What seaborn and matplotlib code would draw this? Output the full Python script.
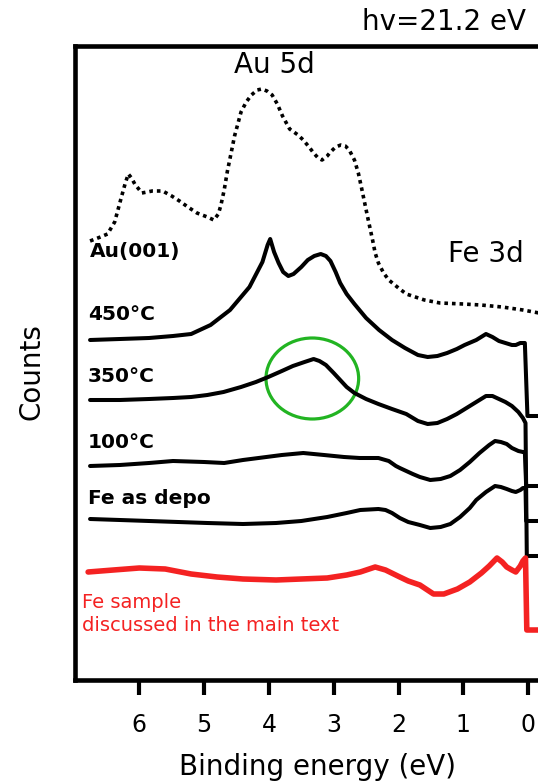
import matplotlib
matplotlib.use("Agg")
import matplotlib.pyplot as plt
from matplotlib.patches import Ellipse
import pandas as pd
import seaborn as sns

# UPS valence-band spectra (hv = 21.2 eV); counts are in arbitrary units,
# each spectrum vertically offset for clarity.
au_energy = [6.76, 6.60, 6.49, 6.38, 6.28, 6.22, 6.17, 6.12, 6.07, 5.96, 5.80, 5.64,
             5.50, 5.38, 5.25, 5.11, 4.95, 4.85, 4.78, 4.74, 4.69, 4.64, 4.58, 4.53,
             4.43, 4.35, 4.27, 4.18, 4.11, 4.03, 3.95, 3.87, 3.79, 3.68, 3.55, 3.47,
             3.38, 3.31, 3.24, 3.18, 3.10, 3.05, 2.97, 2.89, 2.82, 2.76, 2.68, 2.62,
             2.57, 2.47, 2.40, 2.36, 2.31, 2.23, 2.15, 2.00, 1.88, 1.60, 1.36, 1.00,
             0.73, 0.40, 0.08, -0.17, -0.50]
au_counts = [439, 443, 446, 458, 482, 496, 506, 502, 496, 487, 489, 489,
             484, 479, 473, 467, 463, 460, 466, 475, 490, 509, 528, 544,
             568, 578, 585, 590, 591, 589, 585, 576, 564, 551, 545, 540,
             533, 527, 522, 520, 524, 528, 533, 535, 534, 530, 520, 507,
             492, 461, 440, 427, 417, 407, 400, 392, 386, 380, 377, 376,
             375, 373, 370, 367, 365]

t450_energy = [6.76, 6.30, 5.85, 5.48, 5.20, 4.90, 4.60, 4.30, 4.10, 4.02, 3.98, 3.92,
               3.85, 3.78, 3.70, 3.62, 3.50, 3.40, 3.30, 3.20, 3.12, 3.05, 2.97, 2.90,
               2.80, 2.68, 2.50, 2.30, 2.10, 1.90, 1.70, 1.55, 1.40, 1.25, 1.10, 0.98,
               0.80, 0.65, 0.55, 0.45, 0.35, 0.25, 0.19, 0.12, 0.08, 0.05, 0.01, -0.50]
t450_counts = [340, 341, 342, 344, 346, 355, 370, 393, 418, 435, 441, 428,
               417, 408, 404, 406, 413, 420, 424, 426, 424, 419, 408, 397,
               386, 376, 362, 350, 340, 332, 325, 323, 324, 327, 331, 335,
               340, 346, 343, 339, 337, 335, 335, 337, 337, 337, 264, 264]

t350_energy = [6.76, 6.30, 5.85, 5.48, 5.20, 4.95, 4.70, 4.43, 4.20, 4.01, 3.80, 3.63,
               3.45, 3.31, 3.22, 3.12, 3.00, 2.90, 2.80, 2.68, 2.50, 2.31, 2.10, 1.88,
               1.70, 1.55, 1.40, 1.25, 1.10, 0.95, 0.80, 0.65, 0.55, 0.45, 0.35, 0.25,
               0.15, 0.08, 0.04, 0.02, -0.50]
t350_counts = [280, 280, 281, 282, 283, 285, 288, 293, 298, 303, 309, 314,
               318, 321, 319, 315, 307, 300, 293, 287, 281, 276, 271, 266,
               259, 256, 257, 261, 266, 272, 278, 284, 284, 281, 278, 274,
               268, 262, 257, 124, 124]

t100_energy = [6.76, 6.30, 5.85, 5.48, 5.00, 4.69, 4.40, 4.16, 3.80, 3.47, 3.15, 2.84,
               2.60, 2.31, 2.15, 2.04, 1.98, 1.78, 1.67, 1.51, 1.35, 1.20, 1.05, 0.90,
               0.75, 0.60, 0.51, 0.42, 0.33, 0.25, 0.15, 0.08, 0.05, 0.03, -0.50]
t100_counts = [214, 215, 217, 219, 218, 217, 220, 222, 225, 227, 225, 223,
               222, 222, 219, 214, 212, 206, 203, 200, 201, 204, 210, 218,
               227, 235, 239, 238, 236, 232, 229, 228, 228, 194, 194]

depo_energy = [6.76, 6.30, 5.85, 5.40, 4.95, 4.40, 3.89, 3.50, 3.10, 2.80, 2.59, 2.31,
               2.20, 2.10, 1.98, 1.85, 1.67, 1.51, 1.35, 1.20, 1.05, 0.90, 0.80, 0.65,
               0.51, 0.42, 0.33, 0.25, 0.19, 0.12, 0.08, 0.04, 0.03, -0.50]
depo_counts = [161, 160, 159, 158, 157, 156, 157, 159, 163, 167, 170, 171,
               170, 167, 162, 158, 155, 152, 153, 156, 163, 172, 180, 188,
               194, 193, 191, 189, 188, 190, 192, 192, 159, 159]

fe_energy = [6.79, 6.40, 6.00, 5.60, 5.20, 4.80, 4.40, 3.89, 3.50, 3.10, 2.80, 2.59,
             2.36, 2.20, 1.98, 1.85, 1.67, 1.46, 1.30, 1.09, 0.90, 0.72, 0.60, 0.48,
             0.40, 0.33, 0.25, 0.19, 0.12, 0.08, 0.04, 0.02, -0.50]
fe_counts = [108, 110, 112, 111, 106, 103, 101, 100, 101, 102, 105, 108,
             113, 110, 103, 99, 95, 86, 86, 91, 98, 107, 114, 122,
             118, 113, 110, 108, 114, 119, 122, 50, 50]

energy_ticks = [6, 5, 4, 3, 2, 1, 0]

sns.set_theme(style="white")
plt.rcParams["font.family"] = ["DejaVu Sans"]
plt.rcParams["text.color"] = "black"
plt.rcParams["axes.labelcolor"] = "black"
plt.rcParams["xtick.color"] = "black"

fig = plt.figure(figsize=(5.38, 7.81), dpi=100)
ax = fig.add_axes([74.5 / 538, 101 / 781, 486 / 538, 634 / 781])

def draw(energy, counts, **kw):
    df = pd.DataFrame({"energy": energy, "counts": counts})
    sns.lineplot(data=df, x="energy", y="counts", ax=ax, sort=False,
                 estimator=None, **kw)

draw(au_energy, au_counts, color="black", lw=2.6,
     linestyle=(0, (1, 1.1)), dash_capstyle="butt")
for e, c in [(t450_energy, t450_counts), (t350_energy, t350_counts),
             (t100_energy, t100_counts), (depo_energy, depo_counts)]:
    draw(e, c, color="black", lw=2.9, solid_joinstyle="round")
draw(fe_energy, fe_counts, color="#f42222", lw=4.0, solid_joinstyle="round")

# highlight of the Au 5d shoulder in the 350 °C spectrum
ax.add_patch(Ellipse((3.33, 301.5), 1.43, 81, fill=False,
                     edgecolor="#22b422", lw=2.3))

ax.set_xlim(7.0, -0.5)
ax.set_ylim(0, 634)
ax.set_xticks(energy_ticks)
ax.set_xticklabels([str(t) for t in energy_ticks])
ax.set_yticks([])
ax.tick_params(axis="x", direction="out", length=10.5, width=3,
               labelsize=17, pad=13, color="black", labelcolor="black",
               bottom=True)
for side in ["left", "bottom", "top", "right"]:
    ax.spines[side].set_linewidth(3.3)
    ax.spines[side].set_color("black")

ax.set_xlabel("Binding energy (eV)", fontsize=20)
ax.xaxis.label.set_va("center")
ax.xaxis.set_label_coords(0.5, -0.137)
ax.set_ylabel("Counts", fontsize=20)
ax.yaxis.label.set_va("center")
ax.yaxis.set_label_coords(-0.0895, 0.486)

label_kw = dict(fontsize=14.5, fontweight="bold", ha="left", va="center",
                color="black")
ax.text(6.76, 428, "Au(001)", **label_kw)
ax.text(6.79, 365, "450°C", **label_kw)
ax.text(6.79, 303, "350°C", **label_kw)
ax.text(6.79, 237, "100°C", **label_kw)
ax.text(6.79, 181, "Fe as depo", **label_kw)
ax.text(6.88, 66, "Fe sample\ndiscussed in the main text", color="#f42222",
        fontsize=14, ha="left", va="center", linespacing=1.25)

ax.text(3.92, 615, "Au 5d", fontsize=20, ha="center", va="center", color="black")
ax.text(1.23, 426, "Fe 3d", fontsize=20, ha="left", va="center", color="black")
fig.text(362 / 538, 1 - 22 / 781, "hv=21.2 eV", fontsize=20,
         ha="left", va="center", color="black")

fig.savefig("out.png", dpi=100)
